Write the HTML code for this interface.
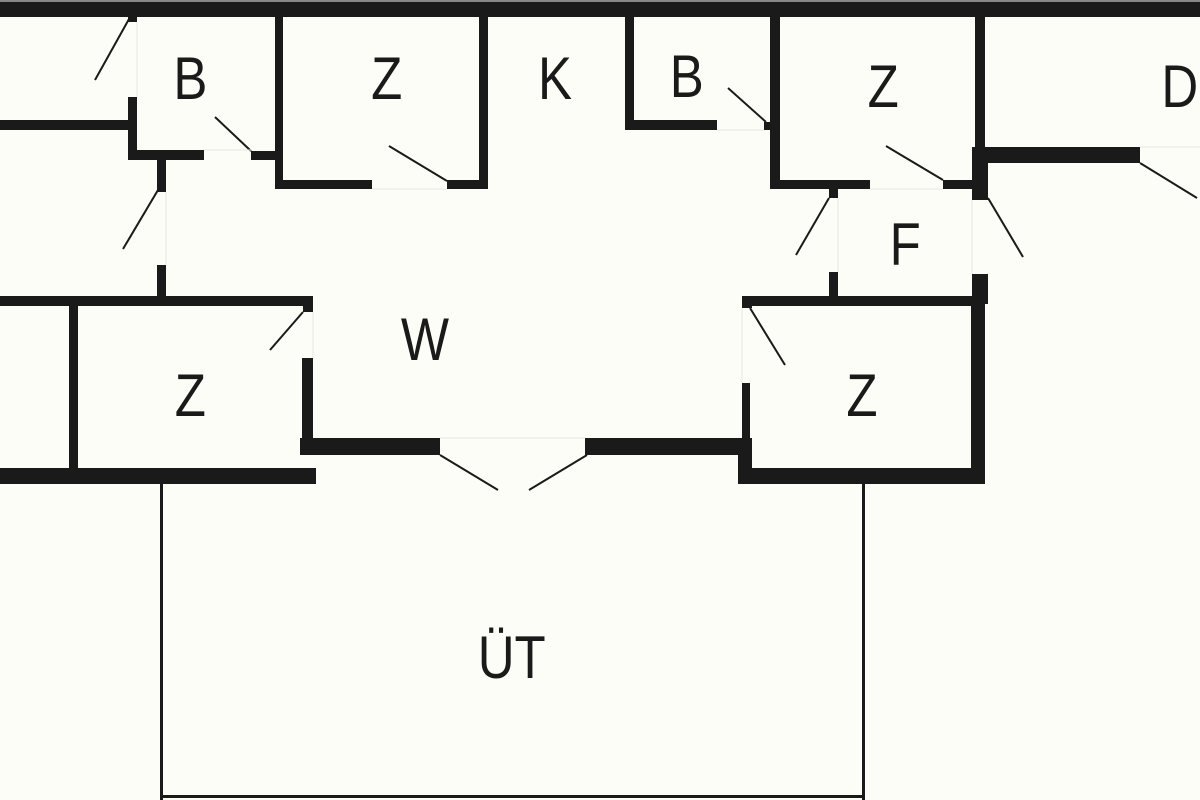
<!DOCTYPE html>
<html><head><meta charset="utf-8"><style>
html,body{margin:0;padding:0;background:#fdfdf8;}
svg{display:block}
text{font-family:"Liberation Sans",sans-serif;font-size:60px;fill:#1a1a1a;text-anchor:middle}
</style></head><body>
<svg width="1200" height="800" viewBox="0 0 1200 800" xmlns="http://www.w3.org/2000/svg">
<rect width="1200" height="800" fill="#fdfdf8"/>
<g fill="#1a1a1a">
<rect x="0" y="0" width="1200" height="2" fill="#888"/>
<rect x="0" y="2" width="1200" height="15"/>
<!-- left top area -->
<rect x="128" y="17" width="9" height="5"/>
<rect x="128" y="97" width="9" height="63"/>
<rect x="0" y="120" width="130" height="10"/>
<rect x="128" y="150" width="76" height="10"/>
<rect x="251" y="151" width="30" height="9"/>
<rect x="275" y="17" width="8" height="172"/>
<rect x="275" y="180" width="97" height="9"/>
<rect x="447" y="180" width="41" height="9"/>
<rect x="479" y="17" width="9" height="172"/>
<rect x="157" y="155" width="9" height="37"/>
<rect x="157" y="265" width="9" height="33"/>
<rect x="0" y="296" width="313" height="10"/>
<rect x="303" y="296" width="10" height="16"/>
<!-- left Z -->
<rect x="69" y="305" width="9" height="165"/>
<rect x="302" y="358" width="11" height="97"/>
<rect x="0" y="468" width="316" height="16"/>
<rect x="300" y="438" width="140" height="17"/>
<rect x="585" y="438" width="167" height="17"/>
<!-- right side -->
<rect x="625" y="17" width="9" height="113"/>
<rect x="625" y="120" width="92" height="10"/>
<rect x="764" y="122" width="9" height="8"/>
<rect x="770" y="17" width="10" height="172"/>
<rect x="770" y="180" width="100" height="9"/>
<rect x="943" y="180" width="32" height="9"/>
<rect x="975" y="17" width="10" height="183"/>
<rect x="975" y="147" width="165" height="16"/>
<rect x="972" y="147" width="16" height="53"/>
<rect x="829" y="189" width="9" height="9"/>
<rect x="829" y="272" width="9" height="26"/>
<rect x="972" y="274" width="16" height="30"/>
<rect x="742" y="296" width="243" height="10"/>
<rect x="742" y="296" width="10" height="12"/>
<rect x="742" y="383" width="8" height="72"/>
<rect x="738" y="438" width="14" height="46"/>
<rect x="738" y="468" width="247" height="16"/>
<rect x="971" y="296" width="14" height="188"/>
<!-- patio -->
<rect x="160" y="484" width="3" height="316"/>
<rect x="862" y="484" width="3" height="316"/>
<rect x="160" y="795" width="705" height="3"/>
</g>
<g stroke="#1a1a1a" stroke-width="2" fill="none">
<line x1="129" y1="19" x2="95" y2="80"/>
<line x1="215" y1="117" x2="251" y2="151"/>
<line x1="389" y1="146" x2="447" y2="181"/>
<line x1="158" y1="190" x2="123" y2="249"/>
<line x1="303" y1="312" x2="270" y2="350"/>
<line x1="440" y1="455" x2="498" y2="490"/>
<line x1="587" y1="455" x2="529" y2="490"/>
<line x1="750" y1="308" x2="785" y2="365"/>
<line x1="728" y1="88" x2="766" y2="122"/>
<line x1="886" y1="146" x2="943" y2="180"/>
<line x1="1140" y1="163" x2="1197" y2="198"/>
<line x1="988" y1="198" x2="1023" y2="257"/>
<line x1="829" y1="198" x2="796" y2="255"/>
</g>
<g stroke="#e8e8e2" stroke-width="1">
<line x1="137" y1="22" x2="137" y2="97"/>
<line x1="204" y1="150" x2="251" y2="150"/>
<line x1="372" y1="189" x2="447" y2="189"/>
<line x1="166" y1="192" x2="166" y2="265"/>
<line x1="313" y1="312" x2="313" y2="358"/>
<line x1="440" y1="438" x2="585" y2="438"/>
<line x1="742" y1="308" x2="742" y2="383"/>
<line x1="717" y1="130" x2="764" y2="130"/>
<line x1="870" y1="189" x2="943" y2="189"/>
<line x1="838" y1="198" x2="838" y2="272"/>
<line x1="972" y1="200" x2="972" y2="274"/>
<line x1="1140" y1="147" x2="1200" y2="147"/>
</g>
<g transform="scale(0.85,1)">
<text x="224" y="99">B</text>
<text x="455" y="99">Z</text>
<text x="653" y="99">K</text>
<text x="808" y="97">B</text>
<text x="1039" y="107">Z</text>
<text x="1388" y="107">D</text>
<text x="1065" y="265">F</text>
<text x="500" y="360">W</text>
<text x="224" y="416">Z</text>
<text x="1014" y="416">Z</text>
<text x="602" y="678">ÜT</text>
</g>
</svg>
</body></html>
